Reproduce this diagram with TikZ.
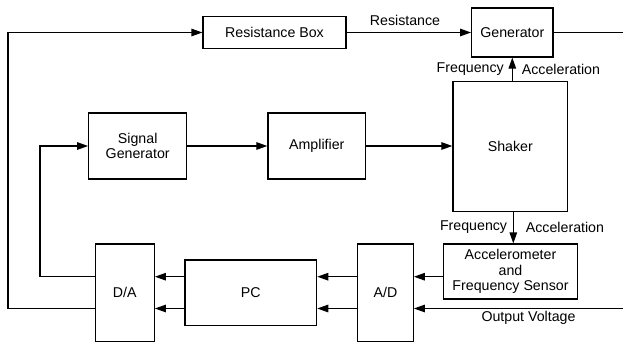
\documentclass[tikz,border=0pt]{standalone}
\usepackage{fontspec}
\setmainfont{Liberation Sans}
\usetikzlibrary{arrows.meta}
\begin{document}
\begin{tikzpicture}[x=1pt,y=-1pt,
  box/.style={draw, line width=1.2pt, inner sep=0pt, align=center, font=\fontsize{14.2}{15.8}\selectfont},
  conn/.style={line width=1.2pt, -{Triangle[length=11pt,width=7.5pt]}},
  plain/.style={line width=1.2pt},
  lbl/.style={inner sep=0pt, font=\fontsize{14.2}{16}\selectfont}]
\useasboundingbox (0,0) rectangle (623,345);
% boxes
\node[box, minimum width=143pt, minimum height=32.5pt] (rbox) at (274.5,32.5) {Resistance Box};
\node[box, minimum width=81.3pt, minimum height=49pt] (gen) at (512.3,32.5) {Generator};
\node[box, minimum width=98pt, minimum height=66pt] (sig) at (137.7,146) {Signal\\Generator};
\node[box, minimum width=97.7pt, minimum height=66pt] (amp) at (316.8,146) {Amplifier};
\node[box, minimum width=114.7pt, minimum height=130pt] (shaker) at (510.3,146.5) {Shaker};
\node[box, minimum width=59pt, minimum height=97.7pt] (da) at (124.8,292.8) {D/A};
\node[box, minimum width=131.7pt, minimum height=65.3pt] (pc) at (250.8,292.7) {PC};
\node[box, minimum width=55.6pt, minimum height=97.7pt] (ad) at (385.5,292.8) {A/D};
\node[box, minimum width=134.3pt, minimum height=55pt] (acc) at (510.5,271.5) {Accelerometer\\and\\Frequency Sensor};
% helper coordinates
\coordinate (r1) at (0,276.7);
\coordinate (r2) at (0,308.5);
\coordinate (tl) at (8,32.5);
\coordinate (sgc) at (40,146);
\coordinate (gout) at (623,32.5);
\coordinate (vin) at (623,308.5);
\coordinate (bx) at (513.3,0);
% connectors
\draw[conn] (da.west |- r2) -| (tl) -- (rbox.west);
\draw[conn] (da.west |- r1) -| (sgc) -- (sig.west);
\draw[conn] (sig.east) -- (amp.west);
\draw[conn] (amp.east) -- (shaker.west |- amp.east);
\draw[conn] (rbox.east) -- (gen.west);
\draw[plain] (gen.east) -- (gout);
\draw[conn] (shaker.north -| gen.south) -- (gen.south);
\draw[conn] (shaker.south -| bx) -- (acc.north -| bx);
\draw[conn] (acc.west |- r1) -- (ad.east |- r1);
\draw[conn] (vin) -- (ad.east |- r2);
\draw[conn] (ad.west |- r1) -- (pc.east |- r1);
\draw[conn] (ad.west |- r2) -- (pc.east |- r2);
\draw[conn] (pc.west |- r1) -- (da.east |- r1);
\draw[conn] (pc.west |- r2) -- (da.east |- r2);
% labels
\node[lbl] (lres) at (405,20.5) {Resistance};
\node[lbl, anchor=east] (lf1) at (504,69.3) {Frequency};
\node[lbl, anchor=west] (la1) at (521.7,69.3) {Acceleration};
\node[lbl, anchor=east] (lf2) at (507.3,227.3) {Frequency};
\node[lbl, anchor=west] (la2) at (525.7,227.3) {Acceleration};
\node[lbl] (lov) at (528.5,317.8) {Output Voltage};
\end{tikzpicture}
\end{document}
